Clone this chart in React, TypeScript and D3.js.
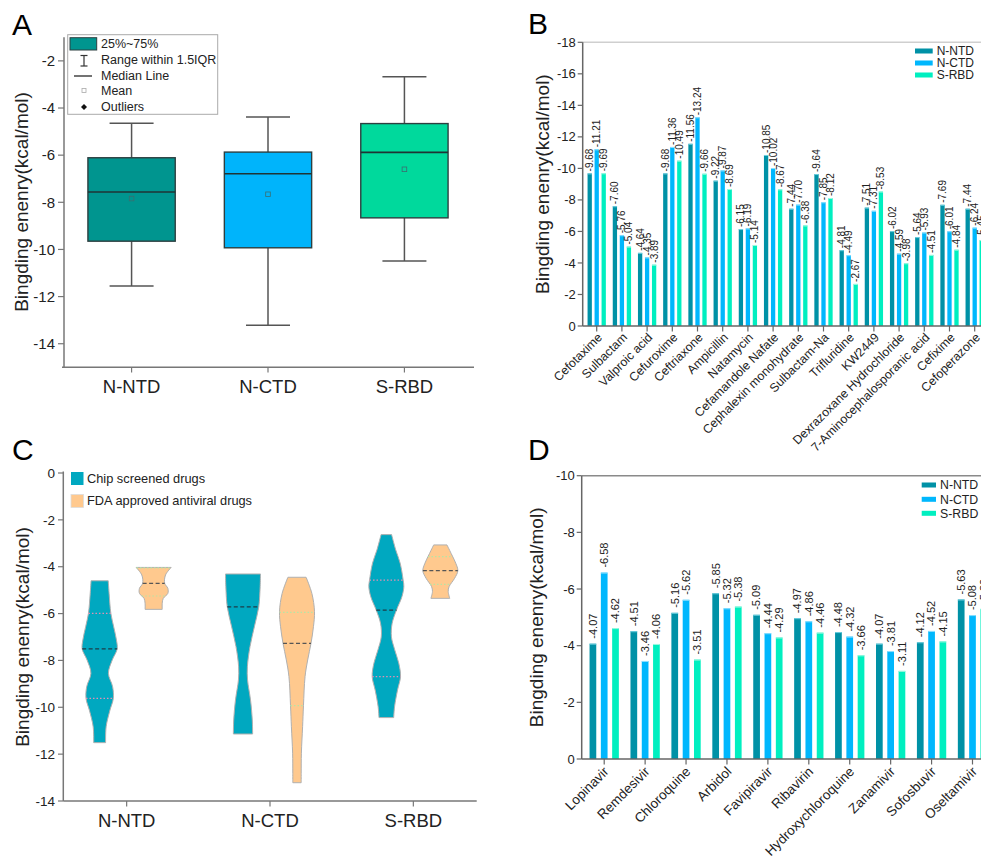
import React from 'react';
import * as d3 from 'd3';

const FONT = '"Liberation Sans", Arial, Helvetica, sans-serif';

const targets = ['N-NTD', 'N-CTD', 'S-RBD'];

// panel A: box statistics (kcal/mol)
const boxTop = [-6.11, -5.87, -4.66];
const boxBottom = [-9.65, -9.93, -8.66];
const boxMedian = [-7.56, -6.79, -5.88];
const boxMean = [-7.84, -7.66, -6.6];
const whiskerTop = [-4.65, -4.38, -2.67];
const whiskerBottom = [-11.55, -13.22, -10.49];
const boxColors = ['#00958f', '#00b4fb', '#00d99c'];

// panel B: chip screened drugs
const chipDrugs = [
  'Cefotaxime', 'Sulbactam', 'Valproic acid', 'Cefuroxime', 'Ceftriaxone', 'Ampicillin',
  'Natamycin', 'Cefamandole Nafate', 'Cephalexin monohydrate', 'Sulbactam-Na', 'Trifluridine',
  'KW2449', 'Dexrazoxane Hydrochloride', '7-Aminocephalosporanic acid', 'Cefixime', 'Cefoperazone',
];
const chipNNTD = [-9.68, -7.6, -4.64, -9.68, -11.56, -9.22, -6.15, -10.85, -7.44, -9.64, -4.81, -7.51, -6.02, -5.64, -7.69, -7.44];
const chipNCTD = [-11.21, -5.76, -4.35, -11.36, -13.24, -9.87, -6.19, -10.02, -7.7, -7.85, -4.49, -7.31, -4.59, -5.93, -6.01, -6.24];
const chipSRBD = [-9.69, -5.04, -3.89, -10.49, -9.66, -8.69, -5.14, -8.67, -6.38, -8.12, -2.67, -8.53, -3.98, -4.51, -4.84, -5.45];

// panel D: FDA approved antiviral drugs
const fdaDrugs = [
  'Lopinavir', 'Remdesivir', 'Chloroquine', 'Arbidol', 'Favipiravir', 'Ribavirin',
  'Hydroxychloroquine', 'Zanamivir', 'Sofosbuvir', 'Oseltamivir',
];
const fdaNNTD = [-4.07, -4.51, -5.16, -5.85, -5.09, -4.97, -4.48, -4.07, -4.12, -5.63];
const fdaNCTD = [-6.58, -3.46, -5.62, -5.32, -4.44, -4.86, -4.32, -3.81, -4.52, -5.08];
const fdaSRBD = [-4.62, -4.06, -3.51, -5.38, -4.29, -4.46, -3.66, -3.11, -4.15, -5.3];

const barColors = ['#0091a6', '#00b7fd', '#00efc0'];
const capColors = ['#6fd0e0', '#8fe0ff', '#9ff8e0'];

// panel C: violin outlines [value, relative density]
const chipViolinNNTD: [number, number][] = [
  [-4.6, 0.49], [-5.14, 0.54], [-5.99, 0.64], [-6.56, 0.8], [-7.13, 0.96], [-7.51, 1.0], [-7.98, 0.72],
  [-8.55, 0.5], [-9.12, 0.74], [-9.62, 0.78], [-10.12, 0.59], [-10.83, 0.37], [-11.51, 0.34],
];
const chipViolinNCTD: [number, number][] = [
  [-4.31, 1.0], [-4.85, 0.98], [-5.71, 0.9], [-6.56, 0.65], [-7.41, 0.4], [-8.27, 0.25], [-8.83, 0.26],
  [-9.69, 0.43], [-10.54, 0.53], [-11.14, 0.55],
];
const chipViolinSRBD: [number, number][] = [
  [-2.63, 0.3], [-3.29, 0.54], [-3.85, 0.79], [-4.57, 0.96], [-4.85, 1.0], [-5.28, 0.89], [-5.85, 0.58],
  [-6.42, 0.33], [-6.99, 0.29], [-7.55, 0.48], [-8.12, 0.71], [-8.69, 0.81], [-9.26, 0.64], [-9.97, 0.47],
  [-10.44, 0.42],
];
const fdaViolinNNTD: [number, number][] = [
  [-4.03, 1.0], [-4.35, 0.68], [-4.71, 0.63], [-4.92, 0.81], [-5.14, 0.81], [-5.35, 0.55], [-5.56, 0.49], [-5.82, 0.49],
];
const fdaViolinNCTD: [number, number][] = [
  [-4.45, 0.52], [-5.14, 0.85], [-5.92, 1.0], [-6.56, 0.94], [-7.27, 0.8], [-7.98, 0.61], [-8.69, 0.46],
  [-9.93, 0.37], [-10.83, 0.32], [-11.96, 0.25], [-12.82, 0.24], [-13.22, 0.24],
];
const fdaViolinSRBD: [number, number][] = [
  [-3.07, 0.38], [-3.5, 0.66], [-3.85, 0.88], [-4.17, 1.0], [-4.5, 0.81], [-4.85, 0.5], [-5.06, 0.45], [-5.35, 0.54],
];
const chipMedians = [-7.51, -5.71, -5.85];
const chipQuartiles = [[-5.99, -9.62], [], [-4.57, -8.69]];
const fdaMedians = [-4.71, -7.27, -4.17];
const fdaQuartiles = [[-4.05, -5.25], [-5.95, -9.93], [-3.57, -4.75]];
const violinColors = ['#00a8c0', '#ffc98e'];

const yLabel = 'Bingding enenry(kcal/mol)';

function PanelA() {
  const y = d3.scaleLinear().domain([-1, -15]).range([37.3, 367.3]);
  const x = d3.scalePoint<string>().domain(targets).range([62, 474]).padding(0.51);
  const bw = 87.3;
  const cap = 44;
  return (
    <g>
      <text x={12} y={35} fontSize={30} fontFamily={FONT}>A</text>
      <line x1={64} x2={64} y1={37.3} y2={367.3} stroke="#777" strokeWidth={1.5} />
      <line x1={62} x2={474} y1={367.3} y2={367.3} stroke="#777" strokeWidth={1.5} />
      {y.ticks(7).map(t => (
        <g key={t}>
          <line x1={58} x2={64} y1={y(t)} y2={y(t)} stroke="#777" strokeWidth={1.2} />
          <text x={55} y={y(t)} dy="0.35em" textAnchor="end" fontSize={15} fontFamily={FONT} fill="#222">{String(t)}</text>
        </g>
      ))}
      <text transform="translate(21,202) rotate(-90)" textAnchor="middle" dy="0.35em" fontSize={19} fontFamily={FONT} fill="#222">{yLabel}</text>
      {targets.map((t, i) => {
        const cx = x(t)!;
        return (
          <g key={t}>
            <line x1={cx} x2={cx} y1={367.3} y2={372.5} stroke="#777" strokeWidth={1.2} />
            <text x={cx} y={387} dy="0.35em" textAnchor="middle" fontSize={18.5} fontFamily={FONT} fill="#222">{t}</text>
            <line x1={cx} x2={cx} y1={y(whiskerTop[i])} y2={y(boxTop[i])} stroke="#555" strokeWidth={1.5} />
            <line x1={cx} x2={cx} y1={y(boxBottom[i])} y2={y(whiskerBottom[i])} stroke="#555" strokeWidth={1.5} />
            <line x1={cx - cap / 2} x2={cx + cap / 2} y1={y(whiskerTop[i])} y2={y(whiskerTop[i])} stroke="#555" strokeWidth={1.5} />
            <line x1={cx - cap / 2} x2={cx + cap / 2} y1={y(whiskerBottom[i])} y2={y(whiskerBottom[i])} stroke="#555" strokeWidth={1.5} />
            <rect x={cx - bw / 2} y={y(boxTop[i])} width={bw} height={y(boxBottom[i]) - y(boxTop[i])}
              fill={boxColors[i]} stroke="#2d3f40" strokeWidth={1.4} />
            <line x1={cx - bw / 2} x2={cx + bw / 2} y1={y(boxMedian[i])} y2={y(boxMedian[i])} stroke="#1f3434" strokeWidth={1.6} />
            <rect x={cx - 2.3} y={y(boxMean[i]) - 2.3} width={4.6} height={4.6} fill="none" stroke="#3a6e70" strokeWidth={0.8} />
          </g>
        );
      })}
      <g fontFamily={FONT} fontSize={12.5} fill="#222">
        <rect x={67.7} y={34.7} width={150} height={79.6} fill="#fff" stroke="#aaa" strokeWidth={1} />
        <rect x={70} y={37.7} width={26.7} height={12.3} fill={boxColors[0]} stroke="#2d3f40" strokeWidth={1} />
        <text x={101} y={47.5}>25%~75%</text>
        <line x1={84} x2={84} y1={55.5} y2={66} stroke="#333" strokeWidth={1.2} />
        <line x1={80.5} x2={87.5} y1={55.5} y2={55.5} stroke="#333" strokeWidth={1.2} />
        <line x1={80.5} x2={87.5} y1={66} y2={66} stroke="#333" strokeWidth={1.2} />
        <text x={101} y={64}>Range within 1.5IQR</text>
        <line x1={74} x2={92} y1={76} y2={76} stroke="#444" strokeWidth={1.5} />
        <text x={101} y={79.5}>Median Line</text>
        <rect x={82} y={88.5} width={4} height={4} fill="none" stroke="#aaa" strokeWidth={0.8} />
        <text x={101} y={94.5}>Mean</text>
        <path d="M84,104 L87,107 L84,110 L81,107 Z" fill="#111" />
        <text x={101} y={110.5}>Outliers</text>
      </g>
    </g>
  );
}

function BarPanel(props: {
  letter: string; letterY: number; categories: string[]; series: number[][];
  domainMin: number; y0: number; y1: number; xLeft: number; xRight: number; pad: number;
  groupHalf: number; innerPad: number; tickCount: number; labelFont: number; valueFont: number;
  valueGap: number; catFont: number; catDX: number; catDY: number; yLabelX: number;
  legendX: number; legendTextX: number; legendY: number[]; legendFont: number; borderColor: string;
}) {
  const p = props;
  const y = d3.scaleLinear().domain([0, p.domainMin]).range([p.y0, p.y1]);
  const x = d3.scalePoint<string>().domain(p.categories).range([p.xLeft, p.xRight]).padding(p.pad);
  const s = d3.scaleBand<string>().domain(targets).range([-p.groupHalf, p.groupHalf]).paddingInner(p.innerPad);
  const axisX = p.xLeft;
  return (
    <g fontFamily={FONT}>
      <text x={528} y={p.letterY} fontSize={30}>{p.letter}</text>
      <line x1={axisX} x2={981} y1={p.y1} y2={p.y1} stroke={p.borderColor} strokeWidth={1.5} />
      {p.categories.map((c, ci) => (
        <g key={c}>
          {targets.map((t, si) => {
            const v = p.series[si][ci];
            const bx = x(c)! + s(t)!;
            const cx = bx + s.bandwidth() / 2;
            return (
              <g key={t}>
                <rect x={bx} y={y(v)} width={s.bandwidth()} height={y(0) - y(v)} fill={barColors[si]} />
                <line x1={bx} x2={bx + s.bandwidth()} y1={y(v) + 0.5} y2={y(v) + 0.5} stroke={capColors[si]} strokeWidth={1} />
                <text transform={`translate(${cx},${y(v) - p.valueGap}) rotate(-90)`} dy="0.35em"
                  fontSize={p.valueFont} fill="#222">{v.toFixed(2)}</text>
              </g>
            );
          })}
          <line x1={x(c)!} x2={x(c)!} y1={p.y0} y2={p.y0 + 5.5} stroke="#666" strokeWidth={1.2} />
          <text transform={`translate(${x(c)! + p.catDX},${p.y0 + p.catDY}) rotate(-45)`} dy="0.35em"
            textAnchor="end" fontSize={p.catFont} fill="#222">{c}</text>
        </g>
      ))}
      <line x1={axisX} x2={axisX} y1={p.y1} y2={p.y0} stroke="#666" strokeWidth={1.5} />
      <line x1={axisX} x2={981} y1={p.y0} y2={p.y0} stroke="#666" strokeWidth={1.5} />
      {y.ticks(p.tickCount).map(t => (
        <g key={t}>
          <line x1={axisX - 5} x2={axisX} y1={y(t)} y2={y(t)} stroke="#666" strokeWidth={1.2} />
          <text x={axisX - 7} y={y(t)} dy="0.35em" textAnchor="end" fontSize={p.labelFont} fill="#222">{String(t)}</text>
        </g>
      ))}
      <text transform={`translate(${p.yLabelX},${(p.y0 + p.y1) / 2}) rotate(-90)`} textAnchor="middle" dy="0.35em"
        fontSize={19} fill="#222">{yLabel}</text>
      {targets.map((t, i) => (
        <g key={t}>
          <rect x={p.legendX} y={p.legendY[i] - 2.5} width={p.legendTextX - p.legendX - 4} height={5} fill={barColors[i]} />
          <text x={p.legendTextX} y={p.legendY[i]} dy="0.35em" fontSize={p.legendFont} fill="#222">{t}</text>
        </g>
      ))}
    </g>
  );
}

function PanelC() {
  const y = d3.scaleLinear().domain([0, -14]).range([473, 801]);
  const x = d3.scalePoint<string>().domain(targets).range([63.3, 476.7]).padding(0.442);
  const W = 17.5;
  const offset = 27;
  const groups = [
    { profiles: [chipViolinNNTD, chipViolinNCTD, chipViolinSRBD], medians: chipMedians, quartiles: chipQuartiles, dx: -offset, color: violinColors[0], q: '#e48fb4', m: '#1c3d48' },
    { profiles: [fdaViolinNNTD, fdaViolinNCTD, fdaViolinSRBD], medians: fdaMedians, quartiles: fdaQuartiles, dx: offset, color: violinColors[1], q: '#b5e6a6', m: '#555' },
  ];
  return (
    <g fontFamily={FONT}>
      <text x={12} y={460} fontSize={30}>C</text>
      {groups.map((g, gi) => targets.map((t, ti) => {
        const cx = x(t)! + g.dx;
        const prof = g.profiles[ti];
        const area = d3.area<[number, number]>()
          .curve(d3.curveCatmullRom.alpha(0.5))
          .y(d => y(d[0]))
          .x0(d => cx - W * d[1])
          .x1(d => cx + W * d[1]);
        const dens = d3.scaleLinear().domain(prof.map(d => d[0])).range(prof.map(d => d[1])).clamp(true);
        const hline = (v: number, color: string, dash: string, sw: number, k: string) => (
          <line key={k} x1={cx - W * dens(v)} x2={cx + W * dens(v)} y1={y(v)} y2={y(v)} stroke={color} strokeDasharray={dash} strokeWidth={sw} />
        );
        return (
          <g key={`${gi}-${t}`}>
            <path d={area(prof) || ''} fill={g.color} stroke="#b0b0b0" strokeWidth={1} />
            {g.quartiles[ti].map((v, k) => hline(v, g.q, '1.5,2', 1.2, `q${k}`))}
            {hline(g.medians[ti], g.m, '4,2.5', 1.3, 'm')}
          </g>
        );
      }))}
      <line x1={63.3} x2={63.3} y1={471.5} y2={801} stroke="#777" strokeWidth={1.5} />
      <line x1={63.3} x2={476.7} y1={801} y2={801} stroke="#777" strokeWidth={1.5} />
      {y.ticks(7).map(t => (
        <g key={t}>
          <line x1={58} x2={63.3} y1={y(t)} y2={y(t)} stroke="#777" strokeWidth={1.2} />
          <text x={55} y={y(t)} dy="0.35em" textAnchor="end" fontSize={13.5} fill="#222">{String(t)}</text>
        </g>
      ))}
      {targets.map(t => (
        <g key={t}>
          <line x1={x(t)!} x2={x(t)!} y1={801} y2={806.5} stroke="#777" strokeWidth={1.2} />
          <text x={x(t)!} y={821} dy="0.35em" textAnchor="middle" fontSize={18.5} fill="#222">{t}</text>
        </g>
      ))}
      <text transform="translate(22,637) rotate(-90)" textAnchor="middle" dy="0.35em" fontSize={19} fill="#222">{yLabel}</text>
      <rect x={71} y={472} width={12.5} height={13} fill={violinColors[0]} />
      <text x={87} y={478.5} dy="0.35em" fontSize={12.8} fill="#222">Chip screened drugs</text>
      <rect x={71} y={494.5} width={12.5} height={13} fill={violinColors[1]} stroke="#ddd" strokeWidth={0.8} />
      <text x={87} y={501} dy="0.35em" fontSize={12.8} fill="#222">FDA approved antiviral drugs</text>
    </g>
  );
}

export default function App() {
  return (
    <svg width={981} height={856} style={{ position: 'absolute', left: 0, top: 0, background: '#fff' }}>
      <rect width={981} height={856} fill="#fff" />
      <PanelA />
      <BarPanel letter="B" letterY={34} categories={chipDrugs} series={[chipNNTD, chipNCTD, chipSRBD]}
        domainMin={-18} y0={326} y1={42.3} xLeft={582.7} xRight={988.7} pad={0.556}
        groupHalf={9.15} innerPad={0.386} tickCount={9} labelFont={13} valueFont={10} valueGap={2}
        catFont={12.3} catDX={3} catDY={9} yLabelX={542}
        legendX={915} legendTextX={936.7} legendY={[51, 63, 75]} legendFont={12} borderColor="#cfcfcf" />
      <PanelC />
      <BarPanel letter="D" letterY={460} categories={fdaDrugs} series={[fdaNNTD, fdaNCTD, fdaSRBD]}
        domainMin={-10} y0={759} y1={475.7} xLeft={581.7} xRight={995} pad={0.55}
        groupHalf={14.65} innerPad={0.407} tickCount={5} labelFont={13} valueFont={11} valueGap={5}
        catFont={13.5} catDX={2} catDY={10} yLabelX={536}
        legendX={921.7} legendTextX={940} legendY={[485, 499.3, 513.3]} legendFont={12.3} borderColor="#8a8a8a" />
    </svg>
  );
}
